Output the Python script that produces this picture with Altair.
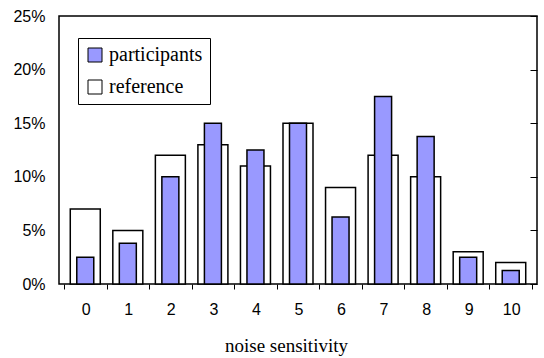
import altair as alt
import pandas as pd

categories = [0, 1, 2, 3, 4, 5, 6, 7, 8, 9, 10]
participants = [2.5, 3.8, 10.0, 15.0, 12.5, 15.0, 6.25, 17.5, 13.75, 2.5, 1.25]
reference = [7.0, 5.0, 12.0, 13.0, 11.0, 15.0, 9.0, 12.0, 10.0, 3.0, 2.0]
series_names = ["participants", "reference"]
series_colors = ["#9999FF", "#FFFFFF"]
y_ticks = [0, 0.05, 0.10, 0.15, 0.20, 0.25]
x_bounds = [-0.5, 0.5, 1.5, 2.5, 3.5, 4.5, 5.5, 6.5, 7.5, 8.5, 9.5, 10.5]

rows = []
for c, p, r in zip(categories, participants, reference):
    rows.append({"cat": c, "series": "participants", "value": p / 100})
    rows.append({"cat": c, "series": "reference", "value": r / 100})
df = pd.DataFrame(rows)

W, H = 478, 268
band = W / 11

x_enc = alt.X(
    "cat:Q",
    scale=alt.Scale(domain=[-0.5, 10.5], nice=False, zero=False),
    axis=alt.Axis(
        values=x_bounds,
        labelExpr="datum.value < 10 ? format(datum.value + 0.5, 'd') : ''",
        labelOffset=band / 2,
        labelFlush=False,
        labelOverlap=False,
        tickSize=5,
        tickColor="black",
        tickWidth=1,
        domain=False,
        grid=False,
        labelFont="Liberation Sans",
        labelFontSize=16,
        labelColor="black",
        labelPadding=12,
        title="noise sensitivity",
        titleFont="Liberation Serif",
        titleFontSize=19,
        titleFontWeight="normal",
        titleColor="black",
        titlePadding=19,
        titleX=227,
        titleAlign="center",
    ),
)

y_scale = alt.Scale(domain=[0, 0.25], nice=False)

y_left = alt.Y(
    "value:Q",
    scale=y_scale,
    axis=alt.Axis(
        values=y_ticks,
        format=".0%",
        ticks=False,
        domain=False,
        grid=False,
        labelPadding=14,
        title=None,
        labelFont="Liberation Sans",
        labelFontSize=16,
        labelColor="black",
    ),
)

y_right = alt.Y(
    "value:Q",
    scale=y_scale,
    axis=alt.Axis(
        values=y_ticks,
        orient="right",
        labels=False,
        tickSize=7,
        offset=-7,
        tickColor="black",
        tickWidth=1,
        domain=False,
        grid=False,
        title=None,
    ),
)

color_enc = alt.Color(
    "series:N",
    scale=alt.Scale(domain=series_names, range=series_colors),
    legend=alt.Legend(
        orient="none",
        legendX=19,
        legendY=22,
        title=None,
        symbolType="square",
        symbolSize=196,
        symbolStrokeColor="black",
        symbolStrokeWidth=1,
        labelFont="Liberation Serif",
        labelFontSize=20,
        labelColor="black",
        labelOffset=4,
        strokeColor="black",
        fillColor="white",
        padding=7,
        rowPadding=12,
    ),
)

ref_layer = (
    alt.Chart(df)
    .transform_filter(alt.datum.series == "reference")
    .mark_bar(size=30, stroke="black", strokeWidth=1.5)
    .encode(x=x_enc, y=y_left, color=color_enc)
)

part_layer = (
    alt.Chart(df)
    .transform_filter(alt.datum.series == "participants")
    .mark_bar(size=17, stroke="black", strokeWidth=1.5)
    .encode(x=x_enc, y=y_right, color=color_enc)
)

chart = (
    alt.layer(ref_layer, part_layer)
    .resolve_axis(y="independent")
    .properties(
        width=W,
        height=H,
        autosize=alt.AutoSizeParams(type="none"),
        padding={"left": 59, "top": 16, "right": 7, "bottom": 74},
        background="white",
    )
    .configure_view(stroke="black", strokeWidth=1.5)
)

chart.save("out.html", embed_options={"renderer": "svg", "actions": False})
